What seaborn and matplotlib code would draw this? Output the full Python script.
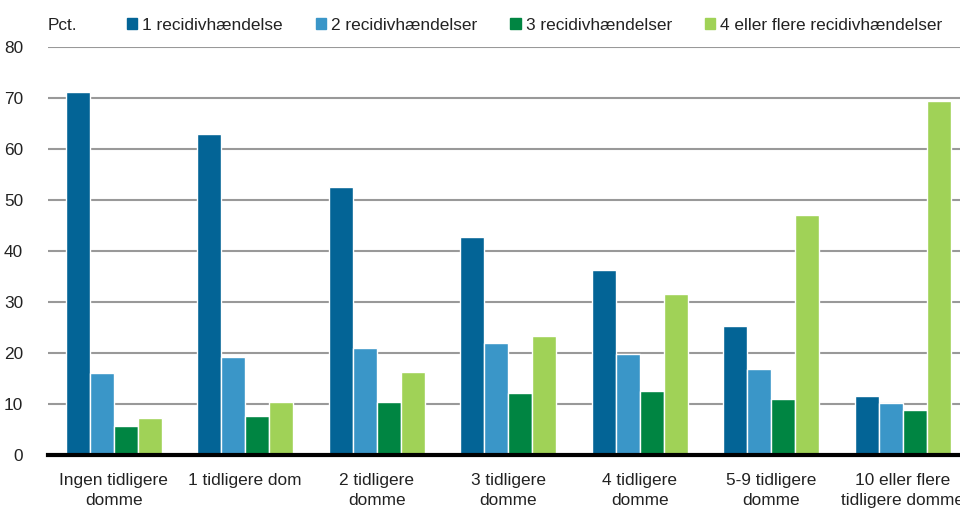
import pandas as pd
import matplotlib.pyplot as plt
import seaborn as sns
from matplotlib import font_manager

# Categories and series (pct.)
categories = ['Ingen tidligere\ndomme', '1 tidligere dom', '2 tidligere\ndomme', '3 tidligere\ndomme',
              '4 tidligere\ndomme', '5-9 tidligere\ndomme', '10 eller flere\ntidligere domme']
series = ['1 recidivhændelse', '2 recidivhændelser', '3 recidivhændelser', '4 eller flere recidivhændelser']
one = [71.1, 62.9, 52.5, 42.7, 36.2, 25.2, 11.6]
two = [16.0, 19.3, 20.9, 22.0, 19.8, 16.8, 10.1]
three = [5.6, 7.6, 10.3, 12.2, 12.5, 11.0, 8.9]
four = [7.3, 10.3, 16.3, 23.3, 31.6, 47.1, 69.4]
colors = ['#036496', '#3a96c8', '#008542', '#a0d257']

# Long-form table for seaborn
rows = []
for name, vals in zip(series, [one, two, three, four]):
    for cat, v in zip(categories, vals):
        rows.append({'Kategori': cat, 'Serie': name, 'Pct': v})
df = pd.DataFrame(rows)

sns.set_style('white')
names = {f.name for f in font_manager.fontManager.ttflist}
fam = 'Liberation Sans Narrow' if 'Liberation Sans Narrow' in names else 'Liberation Sans'
plt.rcParams['font.family'] = [fam, 'DejaVu Sans']

fig = plt.figure(figsize=(9.6, 5.13), dpi=100)
ax = fig.add_axes([48 / 960, 1 - 455 / 513, 920.5 / 960, 408 / 513])

sns.barplot(data=df, x='Kategori', y='Pct', hue='Serie', palette=colors,
            width=0.73, gap=0, saturation=1, ax=ax, legend=False)

ax.set_ylim(0, 80)
ax.set_yticks(range(0, 81, 10))
ax.yaxis.grid(True, color='#999999', linewidth=1.5)
ax.set_axisbelow(True)
for s in ['top', 'right', 'left']:
    ax.spines[s].set_visible(False)
ax.spines['bottom'].set_color('black')
ax.spines['bottom'].set_linewidth(3)
ax.tick_params(axis='both', length=0, labelsize=12.4, colors='#222222')
ax.tick_params(axis='y', pad=18)
ax.tick_params(axis='x', pad=13)
for lbl in ax.get_xticklabels():
    lbl.set_linespacing(1.4)
ax.set_xlabel('')
ax.set_ylabel('')
ax.set_xlim(-0.5, 6.5)

fig.text(48 / 960, 1 - 25 / 513, 'Pct.', fontsize=12.4, va='center', ha='left', color='#222222')
handles = [plt.Rectangle((0, 0), 1, 1, color=c) for c in colors]
fig.legend(handles, series, loc='center left', bbox_to_anchor=(127 / 960, 1 - 25 / 513),
           ncol=4, frameon=False, fontsize=12.4, handlelength=0.6, handleheight=0.6,
           handletextpad=0.3, columnspacing=1.9, borderaxespad=0, borderpad=0,
           labelcolor='#222222')

fig.savefig('out.png', dpi=100)
